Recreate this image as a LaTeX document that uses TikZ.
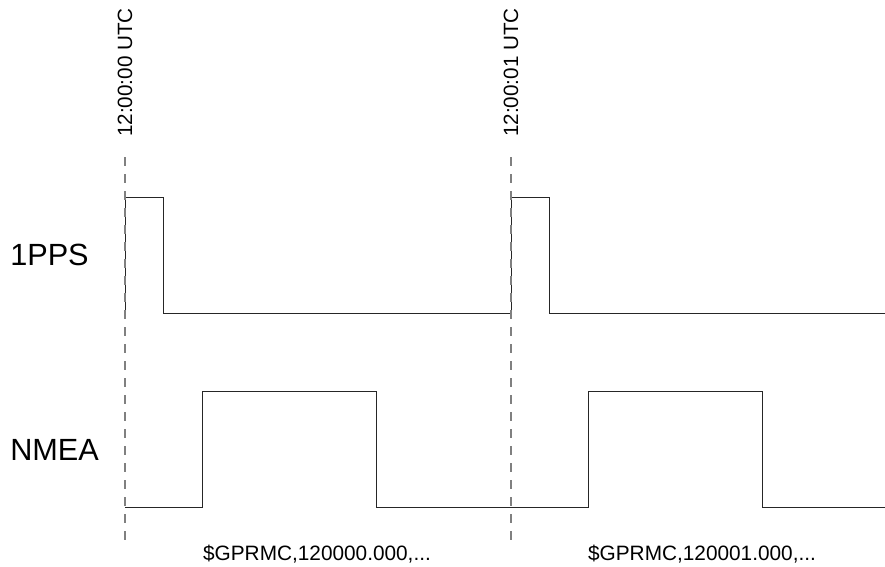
\documentclass[tikz,border=0pt]{standalone}
\usepackage{fontspec}
\setmainfont{Liberation Sans}
\begin{document}
\begin{tikzpicture}[x=0.75pt,y=-0.75pt,
  wave/.style={draw=black!85, line width=0.75pt},
  marker/.style={draw=black!50, line width=0.9pt, dash pattern=on 6.75pt off 6pt},
  siglabel/.style={anchor=base west, inner sep=0pt, font=\fontsize{23pt}{27pt}\selectfont},
  timelabel/.style={anchor=base west, rotate=90, inner sep=0pt, font=\fontsize{15.5pt}{18pt}\selectfont},
  msglabel/.style={anchor=base, inner sep=0pt, font=\fontsize{15.6pt}{18pt}\selectfont}]
\useasboundingbox (0,0) rectangle (885,567);
% signal names
\node[siglabel] (pps) at (10,265) {1PPS};
\node[siglabel] (nmea) at (10,460) {NMEA};
% 1PPS waveform
\coordinate (p0) at (125,313);
\coordinate (p1) at (125,197);
\coordinate (p2) at (163,197);
\coordinate (p3) at (163,313);
\coordinate (p4) at (511,313);
\coordinate (p5) at (511,197);
\coordinate (p6) at (549,197);
\coordinate (p7) at (549,313);
\coordinate (p8) at (885,313);
\draw[wave] (p0) -- (p1) -- (p2) -- (p3) -- (p4) -- (p5) -- (p6) -- (p7) -- (p8);
% NMEA waveform
\coordinate (n0) at (125,507);
\coordinate (n1) at (202,507);
\coordinate (n2) at (202,391);
\coordinate (n3) at (376,391);
\coordinate (n4) at (376,507);
\coordinate (n5) at (588,507);
\coordinate (n6) at (588,391);
\coordinate (n7) at (762,391);
\coordinate (n8) at (762,507);
\coordinate (n9) at (885,507);
\draw[wave] (n0) -- (n1) -- (n2) -- (n3) -- (n4) -- (n5) -- (n6) -- (n7) -- (n8) -- (n9);
% time markers
\coordinate (m1top) at (125,157);
\coordinate (m1bot) at (125,541);
\coordinate (m2top) at (511,157);
\coordinate (m2bot) at (511,541);
\draw[marker] (m1top) -- (m1bot);
\draw[marker] (m2top) -- (m2bot);
\node[timelabel] (t1) at (132,137) {12:00:00 UTC};
\node[timelabel] (t2) at (518,137) {12:00:01 UTC};
% messages
\node[msglabel] (msg1) at (317,560) {\$GPRMC,120000.000,...};
\node[msglabel] (msg2) at (702,560) {\$GPRMC,120001.000,...};
\end{tikzpicture}
\end{document}
